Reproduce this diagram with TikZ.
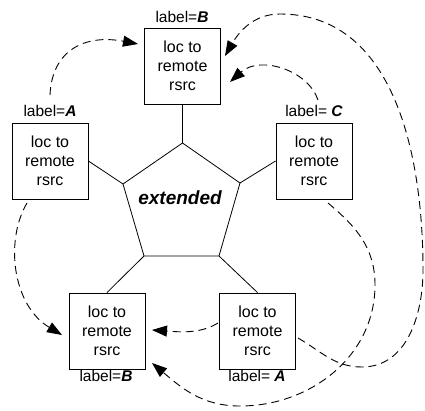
\documentclass[tikz,border=0pt]{standalone}
\usepackage{fontspec}
\setmainfont{Liberation Sans}
\usetikzlibrary{arrows.meta}
\begin{document}
\begin{tikzpicture}[x=1pt,y=1pt,
  box/.style={draw, line width=0.9pt, minimum width=76pt, minimum height=76pt, inner sep=0pt, align=center, font=\fontsize{16}{19}\selectfont},
  lbl/.style={inner sep=0pt, font=\fontsize{15.5}{18}\selectfont},
  link/.style={line width=0.8pt},
  refl/.style={dash pattern=on 8pt off 5pt, line width=0.9pt, -{Triangle[length=15pt,width=11pt]}},
]
\useasboundingbox (0,0) rectangle (425,410);
% boxes
\node[box] (B1) at (182.5,344) {loc to\\remote\\rsrc};
\node[box] (A1) at (50,249) {loc to\\remote\\rsrc};
\node[box] (C1) at (314,249) {loc to\\remote\\rsrc};
\node[box] (B2) at (107,79) {loc to\\remote\\rsrc};
\node[box] (A2) at (257.5,79) {loc to\\remote\\rsrc};
% labels
\node[lbl, anchor=base] (lB1) at (182,387) {label=\textbf{\textit{B}}};
\node[lbl, anchor=base] (lA1) at (50,293) {label=\textbf{\textit{A}}};
\node[lbl, anchor=base] (lC1) at (314,293) {label= \textbf{\textit{C}}};
\node[lbl, anchor=base] (lB2) at (106,29) {label=\textbf{\textit{B}}};
\node[lbl, anchor=base] (lA2) at (257,29) {label= \textbf{\textit{A}}};
% pentagon
\coordinate (p1) at (182.5,267);
\coordinate (p2) at (240,227);
\coordinate (p3) at (219,154);
\coordinate (p4) at (144,154);
\coordinate (p5) at (123,226);
\draw[link] (p1) -- (p2) -- (p3) -- (p4) -- (p5) -- cycle;
\node[font=\fontsize{19}{22}\selectfont\bfseries\itshape] (ext) at (180,212) {extended};
\draw[link] (B1.south) -- (p1);
\draw[link] (A1.east) -- (p5);
\draw[link] (C1.west) -- (p2);
\draw[link] (B2.north) -- (p4);
\draw[link] (A2.north) -- (p3);
% dashed reference arrows
\coordinate (s1) at (50,315);   \coordinate (e1) at (138,366);
\coordinate (s3) at (318,310);  \coordinate (e3) at (230,328);
\coordinate (s2) at (298,72);   \coordinate (e2) at (225,354);
\coordinate (s4) at (27,207);   \coordinate (e4) at (62,75);
\coordinate (s5) at (218,87);   \coordinate (e5) at (152,80);
\coordinate (s6) at (328,207);  \coordinate (e6) at (152,47);
\draw[refl] (s1) .. controls (52,360) and (85,376) .. (e1);
\draw[refl] (s3) .. controls (308,340) and (260,355) .. (e3);
\draw[refl] (s2) to[out=-30,in=180] (362,43) to[out=0,in=-90] (423,140)
   to[out=90,in=0] (280,396) to[out=180,in=60] (e2);
\draw[refl] (s4) .. controls (5,170) and (12,105) .. (e4);
\draw[refl] (s5) .. controls (200,76) and (180,78) .. (e5);
\draw[refl] (s6) to[out=-40,in=90] (375,125) to[out=-90,in=0] (240,4)
   to[out=180,in=-40] (e6);
\end{tikzpicture}
\end{document}
